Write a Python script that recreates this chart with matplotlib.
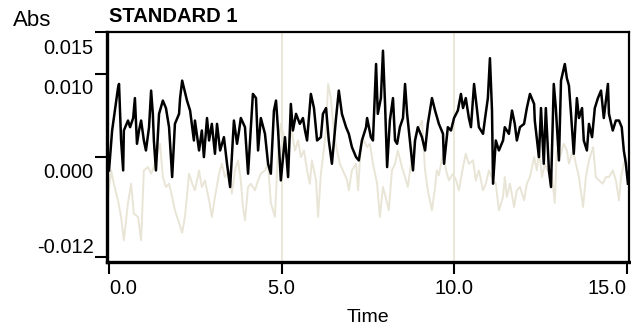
import matplotlib
matplotlib.use("Agg")
import matplotlib.pyplot as plt
from matplotlib.transforms import ScaledTranslation

plt.rcParams["font.family"] = ["Liberation Sans", "DejaVu Sans"]

# ---- data (time in min, absorbance in mAbs) ----
black_t = [0.00, 0.09, 0.14, 0.26, 0.29, 0.35, 0.41, 0.43, 0.55, 0.61, 0.70, 0.75, 0.81, 0.87, 0.93, 1.01, 1.07,
           1.16, 1.22, 1.27, 1.30, 1.36, 1.45, 1.56, 1.65, 1.74, 1.83,
           1.91, 2.03, 2.06, 2.12, 2.26, 2.35, 2.46, 2.49, 2.61, 2.69, 2.75, 2.84, 2.90, 2.98, 3.07, 3.13, 3.22,
           3.33, 3.42, 3.51, 3.62, 3.71, 3.77,
           3.82, 3.94, 4.03, 4.17, 4.26, 4.32, 4.40, 4.52, 4.61, 4.69, 4.78, 4.84, 4.90, 4.98, 5.10, 5.19, 5.27,
           5.33, 5.42, 5.53, 5.62, 5.68,
           5.74, 5.85, 5.94, 6.03, 6.14, 6.20, 6.29, 6.37, 6.46, 6.58, 6.66, 6.75, 6.87, 6.95, 7.04, 7.16, 7.24,
           7.33, 7.45, 7.48, 7.59,
           7.65, 7.74, 7.79, 7.88, 7.94, 8.00, 8.06, 8.14, 8.23, 8.29, 8.35, 8.43, 8.52, 8.58, 8.64, 8.72, 8.81,
           8.87, 8.95, 9.07, 9.16, 9.24, 9.36, 9.45,
           9.56, 9.68, 9.71, 9.82, 9.91, 10.00, 10.11, 10.20, 10.26, 10.34, 10.43, 10.49, 10.58, 10.66, 10.72,
           10.84, 10.90, 10.98, 11.04, 11.10, 11.13, 11.21, 11.30, 11.42,
           11.47, 11.59, 11.68, 11.76, 11.82, 11.91, 12.03, 12.11, 12.20, 12.32, 12.34, 12.46, 12.52, 12.60,
           12.66, 12.75, 12.81, 12.89, 12.95, 13.04, 13.10, 13.21, 13.27, 13.33,
           13.39, 13.45, 13.47, 13.56, 13.62, 13.71, 13.76, 13.85, 13.91, 14.00, 14.08, 14.17, 14.26, 14.34,
           14.46, 14.49, 14.60, 14.69, 14.78, 14.86, 14.92, 14.98, 15.04]
black_a = [-1.6, 3.2, 4.7, 8.3, 8.8, 2.0, -1.6, 3.2, 4.4, 3.6, 4.7, 7.1, 1.6, 3.2, 4.4, 2.0, 0.8,
           3.6, 8.0, 5.2, 2.0, -1.6, 5.2, 6.8, 5.9, 3.6, -2.4,
           4.0, 5.2, 7.1, 9.2, 6.8, 5.6, 2.0, 4.4, 0.8, 3.2, 0.0, 4.7, 2.0, 4.0, 0.4, 4.0, 0.8,
           2.4, -0.8, -3.6, 4.4, 1.6, 3.2,
           4.7, 3.6, -2.0, 7.6, 7.1, 0.8, 4.7, 2.8, -0.8, -2.0, 5.6, 6.8, 3.2, -2.8, 2.4, -2.4, 6.4,
           3.2, 5.2, 4.0, 4.7, 3.2,
           2.0, 7.6, 5.9, 2.0, 2.4, 5.2, 5.9, 2.0, -0.8, 4.7, 8.0, 5.2, 3.6, 2.8, 1.2, 0.0, -0.4,
           2.0, 3.6, 4.7, 2.4,
           2.0, 11.2, 5.2, 7.1, 12.8, 6.4, -1.2, 4.4, 7.1, 2.0, 1.6, 3.6, 4.7, 8.8, 5.2, 2.0, -1.6,
           2.0, 3.6, 2.4, 0.8, 4.0, 7.1, 5.6,
           4.0, 2.8, -0.8, 3.6, 3.2, 4.7, 5.6, 7.6, 5.9, 7.1, 4.7, 3.6, 8.8, 5.9, 3.6,
           2.8, 4.7, 7.1, 11.9, 5.6, -3.2, 2.0, 0.8, 2.0,
           3.6, 2.8, 5.6, 4.0, 2.0, 3.6, 4.0, 5.9, 7.6, 6.4, 4.4, 0.0, 5.9, -0.8,
           5.9, -1.6, -3.6, 8.8, 5.9, -0.4, 9.2, 11.2, 9.5, 8.6,
           5.2, 1.6, 0.4, 7.1, 4.7, 5.9, 2.0, 0.8, 4.0, 2.4, 5.9, 7.1, 8.0, 4.7,
           8.8, 5.2, 3.2, 4.4, 4.4, 3.6, 0.8, -0.8, -3.2]

beige_t = [-0.03, 0.06, 0.14, 0.26, 0.35, 0.43, 0.55, 0.64, 0.72, 0.84,
           0.93, 1.01, 1.13, 1.22, 1.30, 1.42, 1.48, 1.56, 1.65, 1.74,
           1.83, 1.91, 2.03, 2.12, 2.20, 2.32, 2.41, 2.49, 2.61, 2.69,
           2.78, 2.90, 2.98, 3.07, 3.19, 3.27, 3.36, 3.48, 3.56, 3.65,
           3.74, 3.82, 3.88, 3.94, 4.03, 4.11, 4.23, 4.32, 4.40, 4.52,
           4.61, 4.69, 4.81, 4.90, 4.98, 5.10, 5.19, 5.27, 5.39, 5.48,
           5.56, 5.65, 5.74, 5.82, 5.88, 6.00, 6.06, 6.14, 6.20, 6.29,
           6.35, 6.43, 6.52, 6.61, 6.69, 6.78, 6.90, 6.95, 7.04, 7.16,
           7.22, 7.30, 7.39, 7.48, 7.56, 7.65, 7.77, 7.85, 7.94, 8.06,
           8.11, 8.20, 8.29, 8.37, 8.49, 8.58, 8.66, 8.78, 8.87, 8.95,
           9.07, 9.16, 9.24, 9.36, 9.45, 9.50, 9.56, 9.68, 9.77, 9.85,
           9.97, 10.06, 10.14, 10.26, 10.34, 10.43, 10.55, 10.63, 10.72, 10.84,
           10.92, 11.01, 11.13, 11.21, 11.30, 11.42, 11.47, 11.53, 11.62, 11.74,
           11.82, 11.91, 12.03, 12.11, 12.20, 12.32, 12.40, 12.46, 12.55, 12.63,
           12.75, 12.84, 12.92, 12.98, 13.07, 13.18, 13.27, 13.33, 13.45, 13.53,
           13.62, 13.74, 13.82, 13.91, 14.03, 14.11, 14.20, 14.31, 14.40, 14.49,
           14.60, 14.69, 14.78, 14.84, 14.92, 14.98, 15.04]
beige_a = [-4.8, -1.6, -3.2, -5.2, -7.2, -10.0, -5.5, -3.2, -6.8, -7.2,
           -10.0, -1.6, -1.2, -2.0, -1.2, 0.8, 1.6, -2.4, -3.6, -3.2,
           -4.8, -6.4, -7.9, -9.1, -7.2, -2.0, -3.2, -4.0, -1.6, -3.6,
           -2.8, -5.2, -7.2, -4.8, -2.0, -0.8, -2.4, -1.6, -4.4, -1.6,
           -0.4, -2.8, -6.0, -7.6, -3.6, -3.2, -4.0, -2.8, -2.0, -1.6,
           -0.8, -5.5, -7.2, 1.2, 4.0, 2.0, 0.0, 3.6, 0.8, 2.0,
           0.0, 0.8, -1.6, -3.2, -0.4, -2.8, -7.2, -2.0, 0.0, 3.2,
           8.8, 7.1, 2.8, 0.8, -0.8, -1.6, -2.8, -4.0, -1.6, -0.8,
           -4.0, 1.6, 2.0, 1.2, 1.6, -0.8, -3.2, -7.2, -3.6, -5.5,
           -6.4, -1.6, -0.8, 0.8, -1.2, -2.4, -3.6, 0.0, 2.4, 3.2,
           4.4, -1.6, -4.0, -6.4, -3.6, -1.6, -2.2, 0.4, -1.6, -2.8,
           -2.0, -2.8, -4.0, -1.2, 0.4, -0.8, -0.4, -2.8, -1.6, -4.0,
           -3.2, -1.6, -2.8, -3.2, -6.4, -4.8, -2.4, -4.8, -3.2, -6.0,
           -4.0, -3.6, -5.2, -3.2, -2.4, 0.0, -1.6, 0.8, -2.4, -0.8,
           -2.0, -2.4, -5.5, 0.8, 0.0, 1.6, 0.8, -0.8, 0.8, -0.8,
           -2.4, -6.0, -2.4, -0.4, 1.2, -2.4, -2.8, -3.2, -2.4, -2.4,
           -1.6, -2.8, -5.2, -2.4, -0.8, 0.0, -1.2]

x_ticks = [0.0, 5.0, 10.0, 15.0]
x_labels = ["0.0", "5.0", "10.0", "15.0"]
y_ticks = [0.015, 0.010, 0.000, -0.012]
y_labels = ["0.015", "0.010", "0.000", "-0.012"]

beige = "#e9e5d6"

fig = plt.figure(figsize=(6.31, 3.33), dpi=100)
ax = fig.add_axes([0.1696, 0.2132, 0.8272, 0.6907])

for t in [5.0, 10.0]:
    ax.axvline(t, color=beige, lw=1.3, zorder=1)

ax.plot(beige_t, [a * 1e-3 for a in beige_a], color=beige, lw=1.4, zorder=2)
ax.plot(black_t, [a * 1e-3 for a in black_a], color="black", lw=1.8, zorder=3)

ax.set_xlim(-0.058, 15.07)
ax.set_ylim(-0.01262, 0.01505)

ax.spines["left"].set_linewidth(2.4)
ax.spines["bottom"].set_linewidth(2.4)
ax.spines["top"].set_linewidth(1.6)
ax.spines["right"].set_linewidth(1.6)

ax.set_xticks(x_ticks, x_labels, fontsize=14.5)
ax.set_yticks(y_ticks, y_labels, fontsize=14.5)
ax.tick_params(axis="x", length=8.5, width=1.5, pad=4)
ax.tick_params(axis="y", length=8.5, width=1.5, pad=1)

xl = ax.get_xticklabels()
xl[0].set_ha("left")
xl[-1].set_ha("right")

# labels sit a bit off their ticks, like the original export
shifts = [-14, -13, -13, 11]
for lab, dy in zip(ax.get_yticklabels(), shifts):
    lab.set_transform(lab.get_transform() + ScaledTranslation(0, dy / 100, fig.dpi_scale_trans))

ax.set_xlabel("Time", fontsize=14, labelpad=8)
fig.text(13 / 631, 1 - 20 / 333, "Abs", fontsize=16, va="center", ha="left")
fig.text(109 / 631, 1 - 17 / 333, "STANDARD 1", fontsize=14.5, fontweight="bold", va="center", ha="left")

fig.savefig("out.png", dpi=100)
